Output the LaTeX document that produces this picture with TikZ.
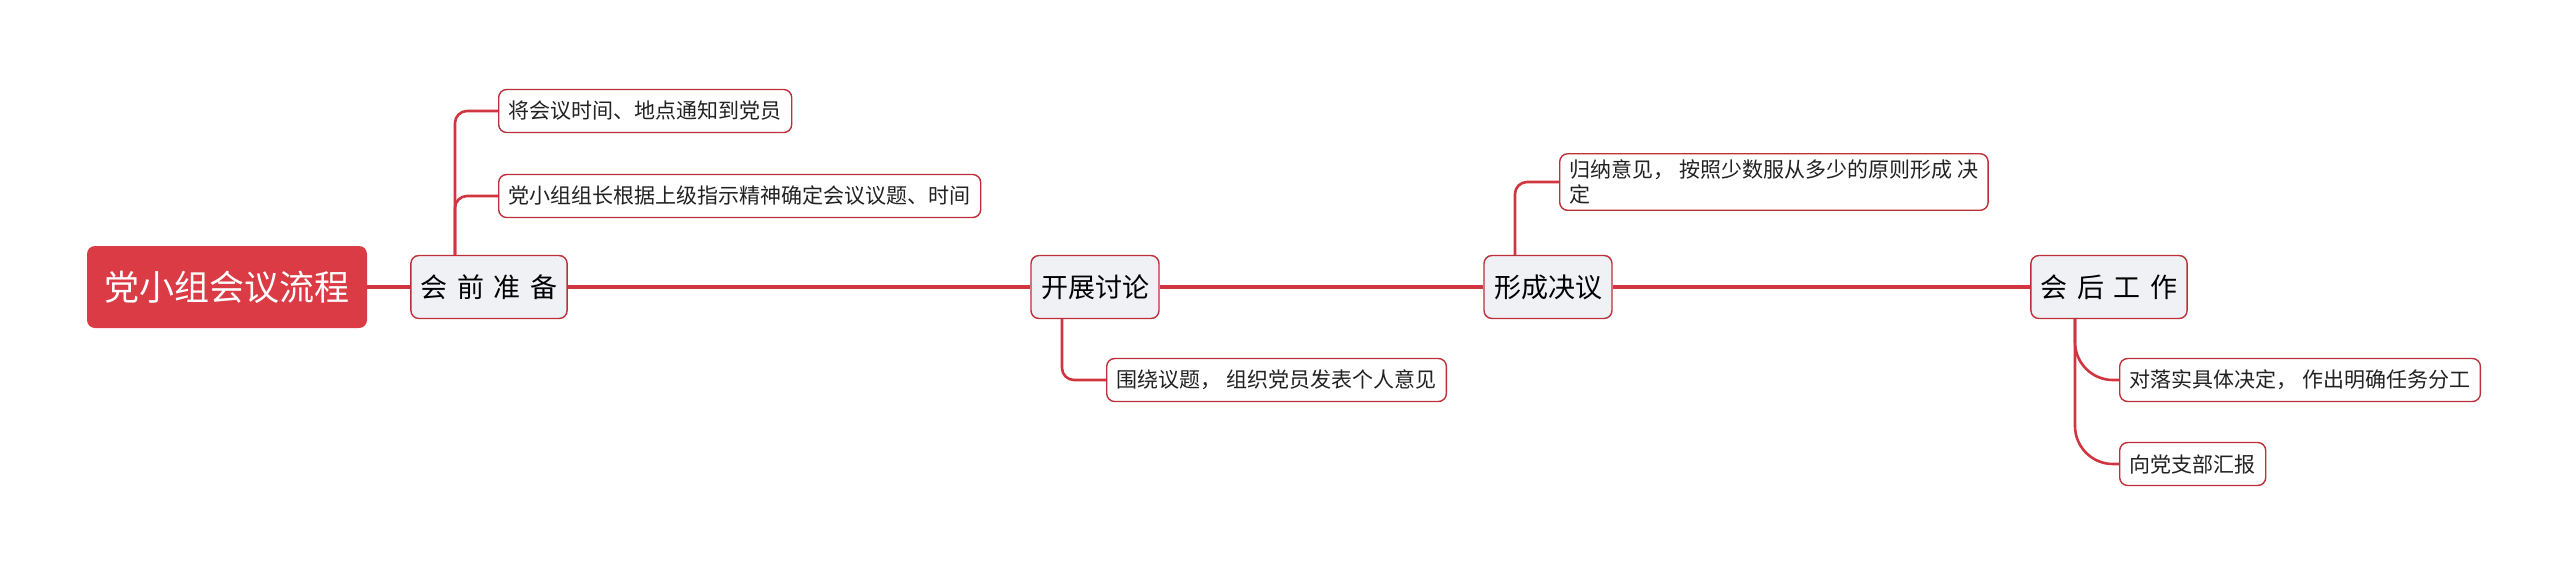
\documentclass[tikz,border=0pt]{standalone}
\usepackage{fontspec}
\setmainfont{Noto Sans CJK SC}
\usetikzlibrary{positioning}

\definecolor{rootred}{HTML}{DA3B44}
\definecolor{linered}{HTML}{CF3640}
\definecolor{edgered}{HTML}{BC3039}
\definecolor{topicgray}{HTML}{EFF1F5}
\definecolor{leaftext}{HTML}{222222}

\newcommand{\gap}{\hspace{4.7pt}}

\tikzstyle{root} = [rectangle, fill=rootred, text=white, rounded corners=4pt,
minimum width=140pt, minimum height=41pt, align=center, inner sep=0pt, font=\fontsize{17.5}{20}\selectfont]
\tikzstyle{topic} = [rectangle, draw=edgered, line width=0.7pt, fill=topicgray, rounded corners=4pt,
minimum height=31.5pt, align=center, inner xsep=5pt, inner ysep=0pt, font=\fontsize{13.5}{16}\selectfont]
\tikzstyle{leaf} = [rectangle, draw=edgered, line width=0.7pt, fill=white, rounded corners=4pt, anchor=west,
minimum height=21.5pt, align=left, inner xsep=5pt, inner ysep=3pt, text=leaftext, font=\fontsize{10.5}{12.5}\selectfont]
\tikzstyle{branch} = [draw=linered, line width=2.2pt]
\tikzstyle{twig} = [draw=linered, line width=1.3pt, rounded corners=6pt]
\tikzstyle{curveline} = [draw=linered, line width=1.3pt, rounded corners=19pt]

\begin{document}
\begin{tikzpicture}[x=0.5pt,y=-0.5pt]

\useasboundingbox (0,0) rectangle (2560,575);

% Main topics
\node[root](meeting) at (227,287) {党小组会议流程};
\node[topic](prepare) at (489,287) {会\gap 前\gap 准\gap 备};
\node[topic](discuss) at (1095,287) {开展讨论};
\node[topic](resolve) at (1548,287) {形成决议};
\node[topic](follow) at (2109,287) {会\gap 后\gap 工\gap 作};

% Subtopics
\node[leaf](notify) at (498,111) {将会议时间、地点通知到党员};
\node[leaf](agenda) at (498,196) {党小组组长根据上级指示精神确定会议议题、时间};
\node[leaf](opinion) at (1106,380) {围绕议题， 组织党员发表个人意见};
\node[leaf](summary) at (1559,182) {归纳意见， 按照少数服从多少的原则形成 决\\定};
\node[leaf](assign) at (2119,380) {对落实具体决定， 作出明确任务分工};
\node[leaf](report) at (2119,464) {向党支部汇报};

% Main line
\path[branch] (meeting) -- (prepare) -- (discuss) -- (resolve) -- (follow);

% Connectors to the subtopics
\path[twig] ([xshift=-17pt]prepare.north) |- (notify.west);
\path[twig] ([xshift=-17pt]prepare.north) |- (agenda.west);
\path[twig] ([xshift=-16.5pt]discuss.south) |- (opinion.west);
\path[twig] ([xshift=-16.5pt]resolve.north) |- (summary.west);
\path[curveline] ([xshift=-17pt]follow.south) |- (assign.west);
\path[curveline] ([xshift=-17pt]follow.south) |- (report.west);

\end{tikzpicture}
\end{document}
